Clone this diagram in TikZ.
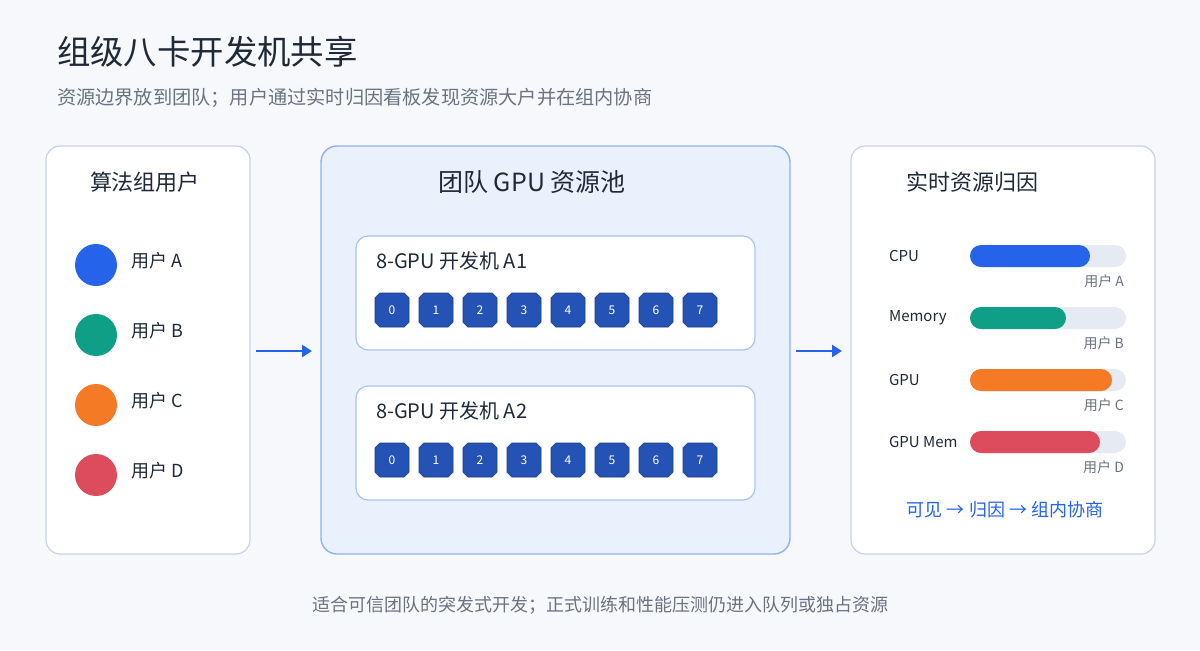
\documentclass[tikz,border=0pt]{standalone}
\usepackage{fontspec}
\setmainfont{Noto Sans CJK SC}
\usetikzlibrary{shapes.misc, arrows.meta, positioning}
\definecolor{ink}{HTML}{1F2937}
\definecolor{grey}{HTML}{6B7280}
\definecolor{uA}{HTML}{2563EB}
\definecolor{uB}{HTML}{0E9F86}
\definecolor{uC}{HTML}{F47A25}
\definecolor{uD}{HTML}{DC4C5C}
\definecolor{chipblue}{HTML}{2553B5}
\definecolor{bg}{HTML}{F6F8FC}
\definecolor{panelline}{HTML}{C8D2E6}
\definecolor{poolfill}{HTML}{E9F1FD}
\definecolor{poolline}{HTML}{8DB1F0}
\definecolor{hostline}{HTML}{A9C4F2}
\definecolor{trackfill}{HTML}{E6EBF3}
\tikzstyle{panel} = [draw=panelline, fill=white, rounded corners=7pt, line width=0.6pt]
\tikzstyle{host} = [draw=hostline, fill=white, rounded corners=6pt, line width=0.6pt]
\tikzstyle{chip} = [chamfered rectangle, chamfered rectangle xsep=1.2pt, chamfered rectangle ysep=1.2pt, minimum size=17pt, inner sep=0pt, fill=chipblue, draw=chipblue!70!black, line width=0.3pt, text=white, font=\fontsize{6}{6}\selectfont]
\tikzstyle{user} = [circle, minimum size=21pt, inner sep=0pt]
\tikzstyle{arrow} = [line width=1.3pt, uA, -{Triangle[length=5pt, width=6pt]}]
\begin{document}
\begin{tikzpicture}[x=0.5pt, y=-0.5pt]
\fill[bg] (0,0) rectangle (1200,650);
\useasboundingbox (0,0) rectangle (1200,650);
\node[anchor=west, text=ink, font=\fontsize{16.7}{16.7}\selectfont] (title) at (50,52) {组级八卡开发机共享};
\node[anchor=west, text=grey, font=\fontsize{9.6}{9.6}\selectfont] (sub) at (50,98) {资源边界放到团队；用户通过实时归因看板发现资源大户并在组内协商};
% left panel
\draw[panel] (46,146) rectangle (250,554);
\node[text=ink, font=\fontsize{11}{11}\selectfont] (lt) at (145,182) {算法组用户};
\foreach \c/\n [count=\i] in {uA/A, uB/B, uC/C, uD/D} {
  \node[user, fill=\c] (u\n) at (96,195+70*\i) {};
  \node[anchor=west, text=ink, font=\fontsize{9}{9}\selectfont] at (124,191+70*\i) {用户 \n};
}
% pool
\draw[draw=poolline, fill=poolfill, rounded corners=8pt, line width=0.7pt] (321,146) rectangle (790,554);
\node[text=ink, font=\fontsize{12.5}{12.5}\selectfont] (pt) at (532,182) {团队 GPU 资源池};
\foreach \m/\y in {1/236, 2/386} {
  \draw[host] (356,\y) rectangle (755,\y+114);
  \node[anchor=west, text=ink, font=\fontsize{10}{10}\selectfont] at (369,\y+25) {8-GPU 开发机 A\m};
  \foreach \k in {0,...,7}
    \node[chip] (g\m\k) at (392+44*\k,\y+74) {\k};
}
\coordinate (a1) at (256,351); \coordinate (a2) at (312,351);
\coordinate (b1) at (796,351); \coordinate (b2) at (842,351);
\draw[arrow] (a1) -- (a2);
\draw[arrow] (b1) -- (b2);
% right panel
\draw[panel] (851,146) rectangle (1155,554);
\node[text=ink, font=\fontsize{11}{11}\selectfont] (rt) at (972,182) {实时资源归因};
\foreach \lab/\c/\w/\n [count=\i] in {CPU/uA/120/A, Memory/uB/96/B, GPU/uC/142/C, GPU Mem/uD/130/D} {
  \node[anchor=west, text=ink, font=\fontsize{7.5}{7.5}\selectfont] at (882,194+62*\i) {\lab};
  \fill[trackfill, rounded corners=5.5pt] (970,183+62*\i) rectangle (1126,205+62*\i);
  \fill[\c, rounded corners=5.5pt] (970,183+62*\i) rectangle (970+\w,205+62*\i);
  \node[anchor=east, text=grey, font=\fontsize{7}{7}\selectfont] at (1131,219+62*\i) {用户 \n};
}
\node[text=uA, font=\fontsize{9}{9}\selectfont] (flow) at (1005,510) {可见 → 归因 → 组内协商};
\node[text=grey, font=\fontsize{9}{9}\selectfont] (foot) at (600,605) {适合可信团队的突发式开发；正式训练和性能压测仍进入队列或独占资源};
\end{tikzpicture}
\end{document}
